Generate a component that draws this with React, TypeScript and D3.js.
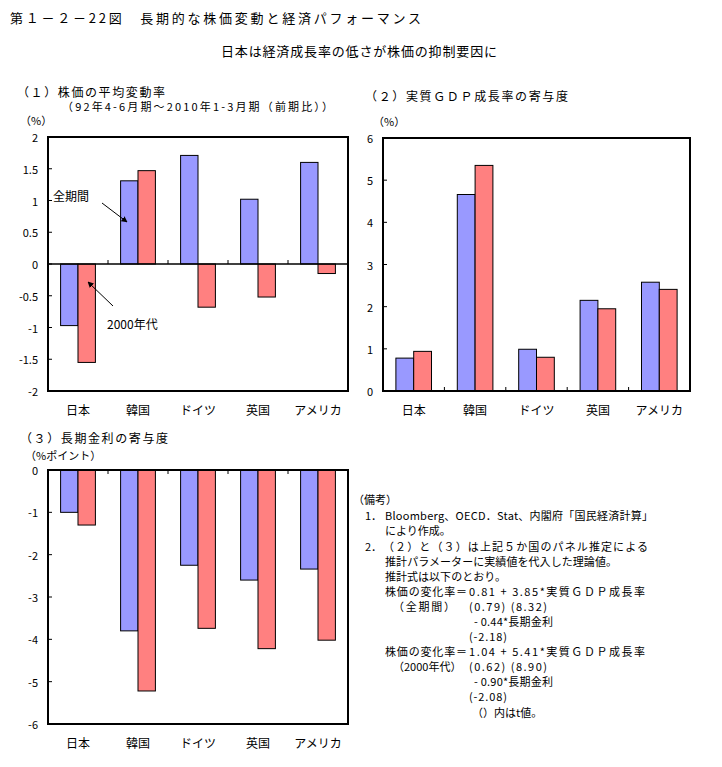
import React from "react";
import * as d3 from "d3";

const categories = ["日本", "韓国", "ドイツ", "英国", "アメリカ"];

// (1) 株価の平均変動率
const stockAll = [-0.97, 1.31, 1.71, 1.02, 1.6];
const stock2000s = [-1.55, 1.47, -0.68, -0.52, -0.15];
const ticks1 = [2, 1.5, 1, 0.5, 0, -0.5, -1, -1.5, -2];
const tickLabels1 = ["2", "1.5", "1", "0.5", "0", "-0.5", "-1", "-1.5", "-2"];

// (2) 実質GDP成長率の寄与度
const gdpAll = [0.78, 4.66, 0.99, 2.15, 2.58];
const gdp2000s = [0.94, 5.35, 0.8, 1.95, 2.41];
const ticks2 = [6, 5, 4, 3, 2, 1, 0];
const tickLabels2 = ["6", "5", "4", "3", "2", "1", "0"];

// (3) 長期金利の寄与度
const rateAll = [-1.0, -3.8, -2.25, -2.6, -2.34];
const rate2000s = [-1.3, -5.22, -3.74, -4.22, -4.02];
const ticks3 = [0, -1, -2, -3, -4, -5, -6];
const tickLabels3 = ["0", "-1", "-2", "-3", "-4", "-5", "-6"];

const BLUE = "#9999FF";
const RED = "#FF8080";
const FONT = "'Noto Sans CJK JP', 'Noto Sans', sans-serif";

type PanelProps = {
  x0: number;
  x1: number;
  y0: number;
  y1: number;
  domain: [number, number];
  ticks: number[];
  tickLabels: string[];
  a: number[];
  b: number[];
  catTickAt: "zero" | "bottom" | "top";
  labelY: number;
};

function Panel(p: PanelProps) {
  const x = d3.scaleBand<string>().domain(categories).range([p.x0, p.x1]).padding(0);
  const y = d3.scaleLinear().domain(p.domain).range([p.y1, p.y0]);
  const bw = x.bandwidth() * 0.29;
  const zeroY = y(0);
  const catTickY = p.catTickAt === "top" ? p.y0 : p.catTickAt === "bottom" ? p.y1 : zeroY;
  const catTickDir = p.catTickAt === "top" ? 1 : -1;
  return (
    <g>
      {categories.map((c, i) => {
        const cx = (x(c) as number) + x.bandwidth() / 2;
        const va = p.a[i];
        const vb = p.b[i];
        return (
          <g key={c}>
            <rect
              x={cx - bw}
              y={Math.min(y(va), zeroY)}
              width={bw}
              height={Math.abs(y(va) - zeroY)}
              fill={BLUE}
              stroke="#000"
              strokeWidth={1}
            />
            <rect
              x={cx}
              y={Math.min(y(vb), zeroY)}
              width={bw}
              height={Math.abs(y(vb) - zeroY)}
              fill={RED}
              stroke="#000"
              strokeWidth={1}
            />
            <text
              x={cx}
              y={p.labelY}
              textAnchor="middle"
              dominantBaseline="central"
              fontSize={12}
              fontFamily={FONT}
            >
              {c}
            </text>
          </g>
        );
      })}
      {categories.slice(1).map((c) => (
        <line
          key={"ct" + c}
          x1={x(c) as number}
          x2={x(c) as number}
          y1={catTickY}
          y2={catTickY + catTickDir * 4}
          stroke="#000"
          strokeWidth={1}
        />
      ))}
      {p.catTickAt === "zero" && (
        <line x1={p.x0} x2={p.x1} y1={zeroY} y2={zeroY} stroke="#000" strokeWidth={1.5} />
      )}
      {p.ticks.map((t, i) => (
        <g key={"yt" + i}>
          <line x1={p.x0} x2={p.x0 + 4} y1={y(t)} y2={y(t)} stroke="#000" strokeWidth={1} />
          <text
            x={p.x0 - 10}
            y={y(t)}
            textAnchor="end"
            dominantBaseline="central"
            fontSize={11}
            fontFamily={FONT}
          >
            {p.tickLabels[i]}
          </text>
        </g>
      ))}
      <rect
        x={p.x0}
        y={p.y0}
        width={p.x1 - p.x0}
        height={p.y1 - p.y0}
        fill="none"
        stroke="#000"
        strokeWidth={2}
      />
    </g>
  );
}

type T = { x: number; y: number; s: string; w?: number; fs?: number };

function Txt({ x, y, s, w, fs }: T) {
  return (
    <text
      x={x}
      y={y}
      dominantBaseline="central"
      fontSize={fs ?? 11}
      fontFamily={FONT}
      textLength={w}
      lengthAdjust={w ? "spacing" : undefined}
    >
      {s}
    </text>
  );
}

const noteLines: T[] = [
  { x: 353, y: 499, s: "（備考）" },
  { x: 365, y: 515, s: "1．" },
  { x: 385, y: 515, s: "Bloomberg、OECD．Stat、内閣府「国民経済計算」", w: 268 },
  { x: 385, y: 530, s: "により作成。" },
  { x: 365, y: 546, s: "2．" },
  { x: 383, y: 546, s: "（２）と（３）は上記５か国のパネル推定による", w: 265 },
  { x: 385, y: 561, s: "推計パラメーターに実績値を代入した理論値。", w: 232 },
  { x: 385, y: 576, s: "推計式は以下のとおり。", w: 121 },
  { x: 385, y: 591, s: "株価の変化率＝", w: 82 },
  { x: 469, y: 591, s: "0.81 + 3.85*実質ＧＤＰ成長率", w: 176 },
  { x: 393, y: 606, s: "（全期間）", w: 62 },
  { x: 469, y: 606, s: "(0.79)  (8.32)", w: 78 },
  { x: 474, y: 621, s: "- 0.44*長期金利", w: 79 },
  { x: 469, y: 636, s: "(-2.18)", w: 38 },
  { x: 385, y: 651, s: "株価の変化率＝", w: 82 },
  { x: 469, y: 651, s: "1.04 + 5.41*実質ＧＤＰ成長率", w: 176 },
  { x: 393, y: 666, s: "（2000年代）" },
  { x: 469, y: 666, s: "(0.62)  (8.90)", w: 78 },
  { x: 474, y: 681, s: "- 0.90*長期金利", w: 79 },
  { x: 469, y: 696, s: "(-2.08)", w: 38 },
  { x: 472, y: 712, s: "（）内はt値。" },
];

export default function App() {
  return (
    <svg
      width={722}
      height={767}
      style={{ position: "absolute", left: 0, top: 0, background: "#fff" }}
    >
      <rect x={0} y={0} width={722} height={767} fill="#fff" />
      <Txt x={10} y={17} s="第１－２－22図　長期的な株価変動と経済パフォーマンス" w={411} fs={13} />
      <Txt x={221} y={50} s="日本は経済成長率の低さが株価の抑制要因に" w={276} fs={13} />

      <Txt x={17} y={91} s="（１）株価の平均変動率" w={148} fs={12} />
      <Txt x={62} y={106} s="（92年4-6月期～2010年1-3月期（前期比））" w={271} />
      <Txt x={20} y={120} s="（%）" />

      <Txt x={365} y={95} s="（２）実質ＧＤＰ成長率の寄与度" w={203} fs={12} />
      <Txt x={373} y={121} s="（%）" />

      <Txt x={20} y={437} s="（３）長期金利の寄与度" w={148} fs={12} />
      <Txt x={25} y={455} s="（%ポイント）" />

      <Panel
        x0={48}
        x1={348}
        y0={137}
        y1={391}
        domain={[-2, 2]}
        ticks={ticks1}
        tickLabels={tickLabels1}
        a={stockAll}
        b={stock2000s}
        catTickAt="zero"
        labelY={409}
      />
      <Panel
        x0={383}
        x1={690}
        y0={138}
        y1={391}
        domain={[0, 6]}
        ticks={ticks2}
        tickLabels={tickLabels2}
        a={gdpAll}
        b={gdp2000s}
        catTickAt="bottom"
        labelY={409}
      />
      <Panel
        x0={48}
        x1={348}
        y0={470}
        y1={724}
        domain={[-6, 0]}
        ticks={ticks3}
        tickLabels={tickLabels3}
        a={rateAll}
        b={rate2000s}
        catTickAt="top"
        labelY={742}
      />

      <defs>
        <marker
          id="arr"
          viewBox="0 0 10 10"
          refX={9}
          refY={5}
          markerWidth={6}
          markerHeight={6}
          orient="auto"
        >
          <path d="M0,0 L10,5 L0,10 z" fill="#000" />
        </marker>
      </defs>
      <rect x={52} y={187} width={36} height={16} fill="#fff" />
      <Txt x={53} y={195} s="全期間" fs={12} />
      <line x1={102} y1={203} x2={127} y2={222} stroke="#000" strokeWidth={1} markerEnd="url(#arr)" />
      <Txt x={107} y={323} s="2000年代" fs={12} />
      <line x1={113} y1={306} x2={88} y2={282} stroke="#000" strokeWidth={1} markerEnd="url(#arr)" />

      {noteLines.map((l, i) => (
        <Txt key={i} {...l} />
      ))}
    </svg>
  );
}
